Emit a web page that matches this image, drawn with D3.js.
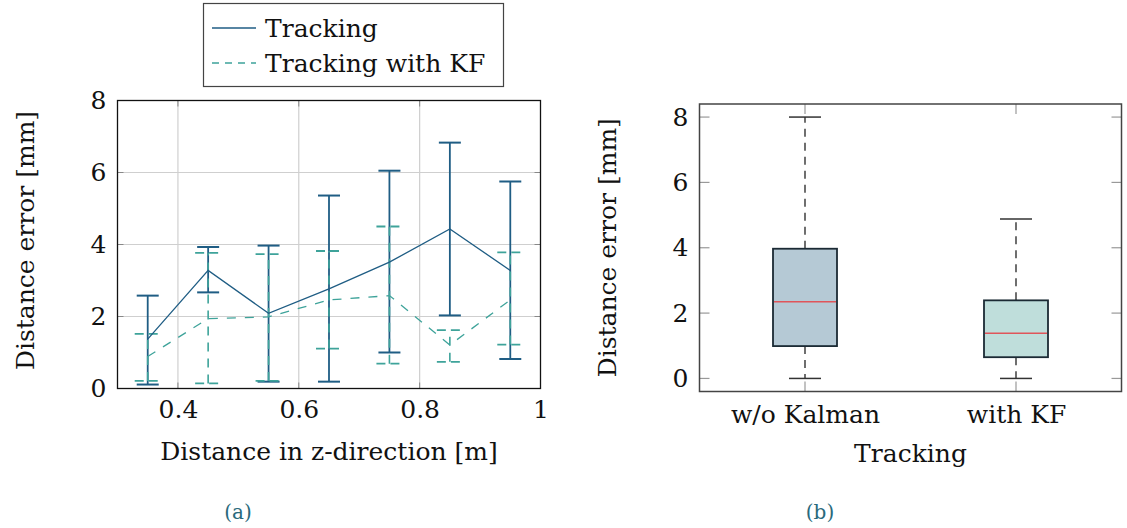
<!DOCTYPE html>
<html>
<head>
<meta charset="utf-8">
<script src="https://cdn.jsdelivr.net/npm/d3@7"></script>
<style>
  html, body { margin: 0; padding: 0; background: #fff; }
  svg { display: block; }
  svg text { font-family: "DejaVu Serif", "Liberation Serif", serif !important; fill: #111; }
</style>
</head>
<body>
<svg id="chart" width="1127" height="528"></svg>
<script>
// ---------- Data (a): error-bar line chart ----------
const distances = [0.35, 0.45, 0.55, 0.65, 0.75, 0.85, 0.95];
const trackMean = [1.37, 3.28, 2.09, 2.77, 3.51, 4.43, 3.28];
const trackLow  = [0.11, 2.67, 0.19, 0.19, 1.00, 2.03, 0.82];
const trackHigh = [2.58, 3.93, 3.97, 5.36, 6.05, 6.83, 5.75];
const kfMean    = [0.89, 1.94, 1.99, 2.46, 2.58, 1.21, 2.46];
const kfLow     = [0.21, 0.14, 0.21, 1.11, 0.69, 0.74, 1.22];
const kfHigh    = [1.52, 3.77, 3.73, 3.82, 4.50, 1.62, 3.78];
const xTicksA   = [0.4, 0.6, 0.8, 1];
const yTicks    = [0, 2, 4, 6, 8];
const seriesNames = ["Tracking", "Tracking with KF"];

// ---------- Data (b): box plot ----------
const boxCats = ["w/o Kalman", "with KF"];
const boxMin  = [0, 0];
const boxQ1   = [0.99, 0.65];
const boxMed  = [2.35, 1.38];
const boxQ3   = [3.97, 2.39];
const boxMax  = [8.0, 4.88];

const C_TRACK = "#1f5d84";
const C_KF = "#3ea39a";
const FS = 25;
const FONT = "DejaVu Serif";

const svg = d3.select("#chart");

// ================= Chart (a) =================
const ax = d3.scaleLinear().domain([0.3, 1.0]).range([117.5, 540.5]);
const ay = d3.scaleLinear().domain([0, 8]).range([388.5, 100.5]);
const gA = svg.append("g");

// grid
gA.selectAll(".gx").data(xTicksA.filter(d => d < 1)).enter().append("line")
  .attr("x1", d => ax(d)).attr("x2", d => ax(d))
  .attr("y1", ay(8)).attr("y2", ay(0))
  .attr("stroke", "#cfcfcf").attr("stroke-width", 1.2);
gA.selectAll(".gy").data(yTicks.filter(d => d > 0 && d < 8)).enter().append("line")
  .attr("x1", ax(0.3)).attr("x2", ax(1.0))
  .attr("y1", d => ay(d)).attr("y2", d => ay(d))
  .attr("stroke", "#cfcfcf").attr("stroke-width", 1.2);
// inner ticks
const tl = 6;
yTicks.forEach(d => {
  gA.append("line").attr("x1", ax(0.3)).attr("x2", ax(0.3) + tl).attr("y1", ay(d)).attr("y2", ay(d)).attr("stroke", "#888");
  gA.append("line").attr("x1", ax(1.0)).attr("x2", ax(1.0) - tl).attr("y1", ay(d)).attr("y2", ay(d)).attr("stroke", "#888");
});
xTicksA.forEach(d => {
  gA.append("line").attr("x1", ax(d)).attr("x2", ax(d)).attr("y1", ay(0)).attr("y2", ay(0) - tl).attr("stroke", "#888");
  gA.append("line").attr("x1", ax(d)).attr("x2", ax(d)).attr("y1", ay(8)).attr("y2", ay(8) + tl).attr("stroke", "#888");
});

// axes labels via d3 axes
const axisBottomA = d3.axisBottom(ax).tickValues(xTicksA).tickSize(0).tickPadding(12)
  .tickFormat(d => d === 1 ? "1" : d3.format(".1f")(d));
const gxA = gA.append("g").attr("transform", `translate(0,${ay(0)})`).call(axisBottomA);
gxA.attr("font-family", FONT);
gxA.select(".domain").remove();
gxA.selectAll("text").attr("font-size", FS).attr("font-family", FONT).attr("fill", "#111");

const axisLeftA = d3.axisLeft(ay).tickValues(yTicks).tickSize(0).tickPadding(11);
const gyA = gA.append("g").attr("transform", `translate(${ax(0.3)},0)`).call(axisLeftA);
gyA.attr("font-family", FONT);
gyA.select(".domain").remove();
gyA.selectAll("text").attr("font-size", FS).attr("font-family", FONT).attr("fill", "#111");

// frame
gA.append("rect").attr("x", ax(0.3)).attr("y", ay(8))
  .attr("width", ax(1.0) - ax(0.3)).attr("height", ay(0) - ay(8))
  .attr("fill", "none").attr("stroke", "#111").attr("stroke-width", 1.3);

// Tracking error bars
const capW = 11;
distances.forEach((d, i) => {
  gA.append("line").attr("x1", ax(d)).attr("x2", ax(d)).attr("y1", ay(trackLow[i])).attr("y2", ay(trackHigh[i]))
    .attr("stroke", C_TRACK).attr("stroke-width", 1.8);
  [trackLow[i], trackHigh[i]].forEach(v => {
    gA.append("line").attr("x1", ax(d) - capW).attr("x2", ax(d) + capW).attr("y1", ay(v)).attr("y2", ay(v))
      .attr("stroke", C_TRACK).attr("stroke-width", 2);
  });
});
// KF error bars
distances.forEach((d, i) => {
  gA.append("line").attr("x1", ax(d)).attr("x2", ax(d)).attr("y1", ay(kfLow[i])).attr("y2", ay(kfHigh[i]))
    .attr("stroke", C_KF).attr("stroke-width", 1.6).attr("stroke-dasharray", "9,7");
  [kfLow[i], kfHigh[i]].forEach(v => {
    gA.append("line").attr("x1", ax(d) - capW - 2).attr("x2", ax(d) + capW + 2).attr("y1", ay(v)).attr("y2", ay(v))
      .attr("stroke", C_KF).attr("stroke-width", 1.8).attr("stroke-dasharray", "9,5");
  });
});
// mean lines
const lineGen = d3.line().x(d => ax(d[0])).y(d => ay(d[1]));
gA.append("path").datum(distances.map((d, i) => [d, trackMean[i]])).attr("d", lineGen)
  .attr("fill", "none").attr("stroke", C_TRACK).attr("stroke-width", 1.3);
gA.append("path").datum(distances.map((d, i) => [d, kfMean[i]])).attr("d", lineGen)
  .attr("fill", "none").attr("stroke", C_KF).attr("stroke-width", 1.3).attr("stroke-dasharray", "9,9");

// axis titles
gA.append("text").attr("x", (ax(0.3) + ax(1.0)) / 2).attr("y", 460).attr("text-anchor", "middle")
  .attr("font-size", FS).attr("font-family", FONT).text("Distance in z-direction [m]");
gA.append("text").attr("transform", `translate(34,${(ay(0) + ay(8)) / 2 - 4}) rotate(-90)`).attr("text-anchor", "middle")
  .attr("font-size", FS).attr("font-family", FONT).text("Distance error [mm]");

// legend
const lg = svg.append("g");
lg.append("rect").attr("x", 203.5).attr("y", 3.5).attr("width", 300).attr("height", 83)
  .attr("fill", "#fff").attr("stroke", "#444").attr("stroke-width", 1.2);
[[C_TRACK, null, 28, 37], [C_KF, "7,6", 63, 72]].forEach((s, i) => {
  const l = lg.append("line").attr("x1", 212).attr("x2", 256).attr("y1", s[2]).attr("y2", s[2])
    .attr("stroke", s[0]).attr("stroke-width", 1.3);
  if (s[1]) l.attr("stroke-dasharray", s[1]);
  lg.append("text").attr("x", 265).attr("y", s[3]).attr("font-size", FS).attr("font-family", FONT).text(seriesNames[i]);
});

// ================= Chart (b) =================
const bx = d3.scaleLinear().domain([0.5, 2.5]).range([699.5, 1121.5]);
const by = d3.scaleLinear().domain([-0.4, 8.4]).range([391.5, 104]);
const gB = svg.append("g");
const pos = boxCats.map((c, i) => i + 1);

// ticks inside
yTicks.forEach(d => {
  gB.append("line").attr("x1", bx(0.5)).attr("x2", bx(0.5) + 10).attr("y1", by(d)).attr("y2", by(d)).attr("stroke", "#999").attr("stroke-width", 1.2);
  gB.append("line").attr("x1", bx(2.5)).attr("x2", bx(2.5) - 10).attr("y1", by(d)).attr("y2", by(d)).attr("stroke", "#999").attr("stroke-width", 1.2);
});
pos.forEach(p => {
  gB.append("line").attr("x1", bx(p)).attr("x2", bx(p)).attr("y1", by(-0.4)).attr("y2", by(-0.4) - 10).attr("stroke", "#999").attr("stroke-width", 1.2);
  gB.append("line").attr("x1", bx(p)).attr("x2", bx(p)).attr("y1", by(8.4)).attr("y2", by(8.4) + 10).attr("stroke", "#999").attr("stroke-width", 1.2);
});

const axisLeftB = d3.axisLeft(by).tickValues(yTicks).tickSize(0).tickPadding(11);
const gyB = gB.append("g").attr("transform", `translate(${bx(0.5)},0)`).call(axisLeftB);
gyB.attr("font-family", FONT);
gyB.select(".domain").remove();
gyB.selectAll("text").attr("font-size", FS).attr("font-family", FONT).attr("fill", "#111");

const axisBottomB = d3.axisBottom(bx).tickValues(pos).tickSize(0).tickPadding(14)
  .tickFormat(d => boxCats[d - 1]);
const gxB = gB.append("g").attr("transform", `translate(0,${by(-0.4)})`).call(axisBottomB);
gxB.attr("font-family", FONT);
gxB.select(".domain").remove();
gxB.selectAll("text").attr("font-size", FS).attr("font-family", FONT).attr("fill", "#111");

const fills = ["#b5c9d5", "#bfdedb"];
const halfBox = 32, halfCap = 16;
pos.forEach((p, i) => {
  const cx = bx(p);
  gB.append("line").attr("x1", cx).attr("x2", cx).attr("y1", by(boxQ3[i])).attr("y2", by(boxMax[i]))
    .attr("stroke", "#222").attr("stroke-width", 1.3).attr("stroke-dasharray", "8,6");
  gB.append("line").attr("x1", cx).attr("x2", cx).attr("y1", by(boxQ1[i])).attr("y2", by(boxMin[i]))
    .attr("stroke", "#222").attr("stroke-width", 1.3).attr("stroke-dasharray", "8,6");
  [boxMin[i], boxMax[i]].forEach(v => {
    gB.append("line").attr("x1", cx - halfCap).attr("x2", cx + halfCap).attr("y1", by(v)).attr("y2", by(v))
      .attr("stroke", "#333").attr("stroke-width", 1.5);
  });
  gB.append("rect").attr("x", cx - halfBox).attr("y", by(boxQ3[i]))
    .attr("width", 2 * halfBox).attr("height", by(boxQ1[i]) - by(boxQ3[i]))
    .attr("fill", fills[i]).attr("stroke", "#1b2a34").attr("stroke-width", 1.8);
  gB.append("line").attr("x1", cx - halfBox + 1).attr("x2", cx + halfBox - 1).attr("y1", by(boxMed[i])).attr("y2", by(boxMed[i]))
    .attr("stroke", "#e0555a").attr("stroke-width", 1.5);
});

gB.append("rect").attr("x", bx(0.5)).attr("y", by(8.4))
  .attr("width", bx(2.5) - bx(0.5)).attr("height", by(-0.4) - by(8.4))
  .attr("fill", "none").attr("stroke", "#444").attr("stroke-width", 1.5);

gB.append("text").attr("x", (bx(1) + bx(2)) / 2).attr("y", 462).attr("text-anchor", "middle")
  .attr("font-size", FS).attr("font-family", FONT).text("Tracking");
gB.append("text").attr("transform", `translate(616,${(by(-0.4) + by(8.4)) / 2}) rotate(-90)`).attr("text-anchor", "middle")
  .attr("font-size", FS).attr("font-family", FONT).text("Distance error [mm]");

// captions
svg.append("text").attr("x", 238).attr("y", 519).attr("text-anchor", "middle").attr("font-size", 20)
  .attr("font-family", FONT).style("fill", "#2a6a7c").text("(a)");
svg.append("text").attr("x", 820).attr("y", 519).attr("text-anchor", "middle").attr("font-size", 20)
  .attr("font-family", FONT).style("fill", "#2a6a7c").text("(b)");
</script>
</body>
</html>
